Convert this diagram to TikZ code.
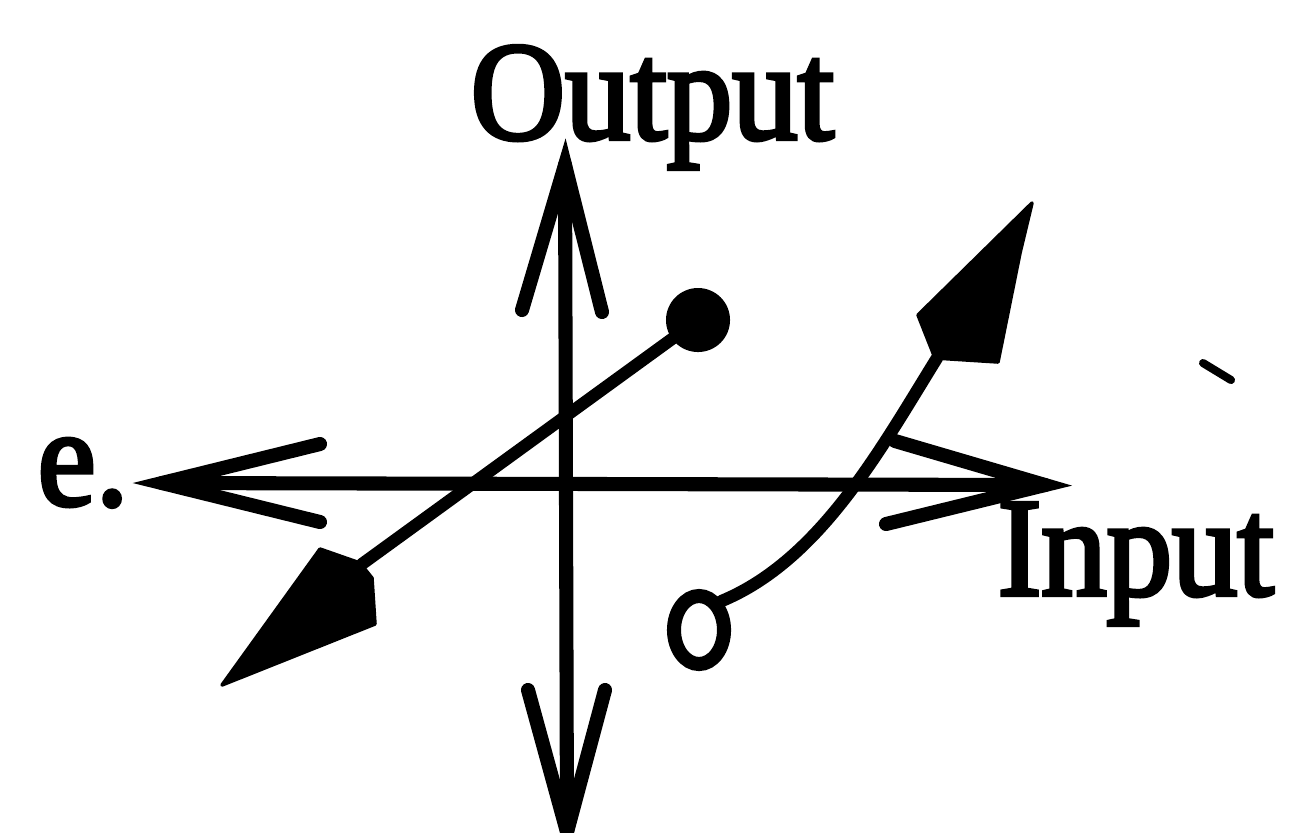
\documentclass[tikz,border=0pt]{standalone}
\usepackage{fontspec}
\usetikzlibrary{shapes.geometric}
\setmainfont{Liberation Serif}
\newfontfamily\labfont[FakeStretch=0.93,FakeBold=3]{Liberation Serif}
\begin{document}
\begin{tikzpicture}[x=0.01cm,y=-0.01cm,
  axis/.style={line width=4pt,line cap=round,line join=round},
  barb/.style={line width=4pt,line cap=round},
  wire/.style={line width=3.5pt,line cap=round},
  headfill/.style={fill=black,draw=black,line width=1pt,line join=round},
  lab/.style={anchor=base west,inner sep=0pt,font=\labfont\fontsize{40}{42}\selectfont}]
\useasboundingbox (0,0) rectangle (1304,832);
% axes
\coordinate (top) at (565,165);
\coordinate (bot) at (567,832);
\coordinate (left) at (162,483);
\coordinate (right) at (1045,485);
\draw[axis] (bot) -- (top);
\draw[axis] (left) -- (right);
\coordinate (tb1) at (522,310); \coordinate (tb2) at (602,312);
\draw[barb] (tb1) -- (top) -- (tb2);
\coordinate (bb1) at (528,690); \coordinate (bb2) at (605,690);
\draw[barb] (bb1) -- (bot) -- (bb2);
\coordinate (lb1) at (320,444); \coordinate (lb2) at (320,522);
\draw[barb] (lb1) -- (left) -- (lb2);
\coordinate (rb1) at (895,441); \coordinate (rb2) at (886,524);
\draw[barb] (rb1) -- (right) -- (rb2);
% line 1: filled dot to filled arrowhead
\node[circle,fill=black,minimum size=0.64cm,inner sep=0pt] (dot) at (698,320) {};
\coordinate (h1) at (362,564);
\draw[wire] (dot.center) -- (h1);
\filldraw[headfill] (222,685) -- (320,549) -- (360,563) -- (372,578) -- (375,624) -- cycle;
% line 2: open ring to filled arrowhead
\node[ellipse,draw=black,line width=4pt,minimum width=0.5cm,minimum height=0.68cm,inner sep=0pt] (ring) at (699,630) {};
\coordinate (h2) at (937,358);
\draw[wire] (ring.north east) .. controls (820,560) and (880,450) .. (h2);
\filldraw[headfill] (1032,203) -- (918,315) -- (935,358) -- (998,362) -- (1020,253) -- cycle;
% stray mark
\coordinate (s1) at (1203,363); \coordinate (s2) at (1231,380);
\draw[line width=2.3pt,line cap=round] (s1) -- (s2);
% labels
\node[lab] (out) at (470,139) {Output};
\node[lab] (e) at (37,505) {e.};
\node[lab] (in) at (997,595) {Input};
\end{tikzpicture}
\end{document}
